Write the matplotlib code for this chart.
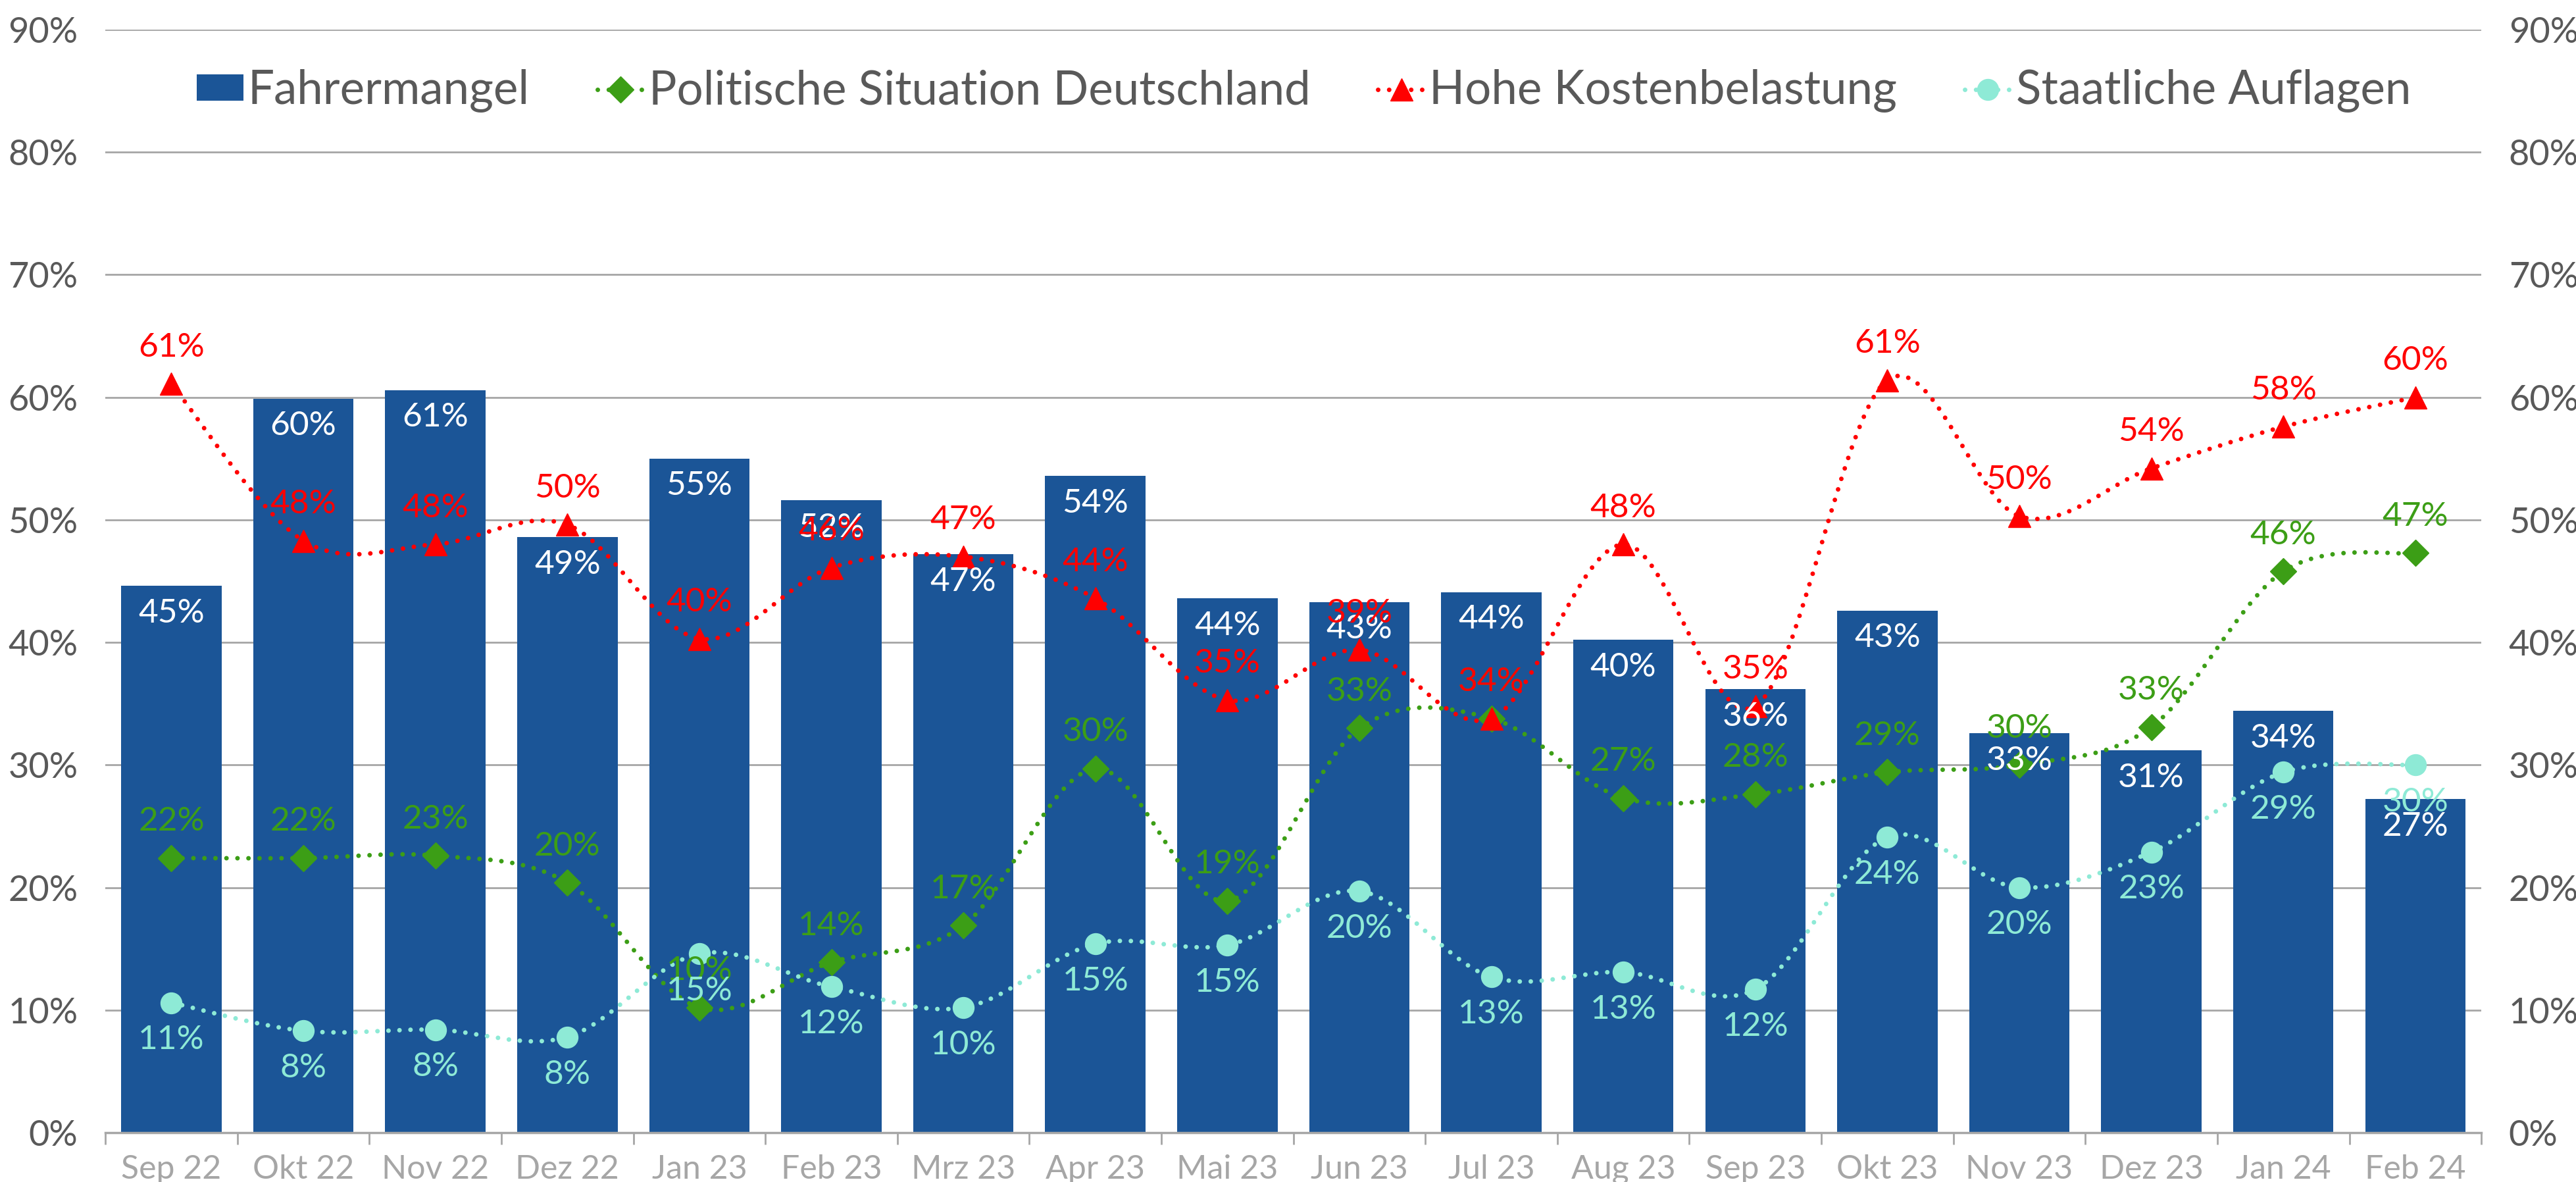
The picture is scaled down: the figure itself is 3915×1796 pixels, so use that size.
import numpy as np
import matplotlib.pyplot as plt
from matplotlib.path import Path
from matplotlib.patches import PathPatch, Patch
from matplotlib.lines import Line2D

plt.rcParams['font.family'] = ['Lato', 'DejaVu Sans']

# data (percent)
months = ["Sep 22", "Okt 22", "Nov 22", "Dez 22", "Jan 23", "Feb 23", "Mrz 23", "Apr 23", "Mai 23",
          "Jun 23", "Jul 23", "Aug 23", "Sep 23", "Okt 23", "Nov 23", "Dez 23", "Jan 24", "Feb 24"]
fahrermangel = [44.6, 59.9, 60.6, 48.6, 55.0, 51.6, 47.2, 53.6, 43.6, 43.3, 44.1, 40.2, 36.2, 42.6, 32.6, 31.2, 34.4, 27.2]
politik = [22.4, 22.4, 22.6, 20.4, 10.2, 13.9, 16.9, 29.7, 18.9, 33.0, 33.8, 27.3, 27.6, 29.4, 30.0, 33.1, 45.8, 47.3]
kosten = [61.1, 48.3, 48.0, 49.6, 40.3, 46.1, 47.0, 43.6, 35.3, 39.4, 33.8, 48.0, 34.8, 61.4, 50.3, 54.2, 57.6, 60.0]
auflagen = [10.6, 8.3, 8.4, 7.8, 14.6, 11.9, 10.2, 15.4, 15.3, 19.7, 12.7, 13.1, 11.7, 24.1, 20.0, 22.9, 29.4, 30.0]

names = ["Fahrermangel", "Politische Situation Deutschland", "Hohe Kostenbelastung", "Staatliche Auflagen"]

BLUE = "#1B5597"
GREEN = "#3C9E16"
RED = "#FF0000"
TEAL = "#8EEAD6"
GRID = "#A6A6A6"
DARK = "#595959"

DOT = (0, (0.01, 2.4))
LW = 5.0


def smooth_path(y):
    # Excel-like smooth line: cubic bezier segments through the points
    pts = np.column_stack([np.arange(len(y)), y]).astype(float)
    ext = np.vstack([pts[0], pts, pts[-1]])
    verts = [pts[0]]
    codes = [Path.MOVETO]
    for i in range(len(pts) - 1):
        p0, p1, p2, p3 = ext[i], ext[i + 1], ext[i + 2], ext[i + 3]
        verts += [p1 + (p2 - p0) / 6, p2 - (p3 - p1) / 6, p2]
        codes += [Path.CURVE4] * 3
    return Path(verts, codes)


fig = plt.figure(figsize=(39.16, 17.96), dpi=100)
ax = fig.add_axes([0.0409, 0.0418, 0.9221, 0.9331])
x = np.arange(len(months))

ax.set_ylim(0, 90)
ax.set_xlim(-0.5, len(months) - 0.5)
ax.set_yticks(range(0, 91, 10))
ax.set_yticklabels([f"{v}%" for v in range(0, 91, 10)])
ax.yaxis.grid(True, color=GRID, lw=2)
ax.set_axisbelow(True)
for s in ["left", "right", "top"]:
    ax.spines[s].set_visible(False)
ax.spines["bottom"].set_color(GRID)
ax.spines["bottom"].set_linewidth(2.5)
ax.tick_params(axis="y", length=0, pad=30, labelsize=39, labelcolor=DARK,
               right=False, labelright=True)

ax.set_xticks(x)
ax.set_xticklabels(months)
ax.set_xticks(np.arange(-0.5, len(months), 1), minor=True)
ax.tick_params(axis="x", which="major", length=0, pad=24, labelsize=36, labelcolor="#A6A6A6")
ax.tick_params(axis="x", which="minor", length=13, width=2, color=GRID)

# bars
ax.bar(x, fahrermangel, width=0.76, color=BLUE, zorder=2)
for i, v in enumerate(fahrermangel):
    ax.annotate(f"{v:.0f}%", (i, v), xytext=(0, -30), textcoords="offset points",
                ha="center", va="center", color="white", fontsize=37, zorder=6)

# lines
series = [(politik, GREEN, "D", 20, 40), (kosten, RED, "^", 24, 40), (auflagen, TEAL, "o", 23, -41)]
for vals, col, mk, ms, off in series:
    ax.add_patch(PathPatch(smooth_path(vals), fill=False, edgecolor=col, lw=LW,
                           linestyle=DOT, capstyle="round", zorder=3))
    ax.plot(x, vals, ls="none", marker=mk, ms=ms, color=col, zorder=4)
    for i, v in enumerate(vals):
        ax.annotate(f"{v:.0f}%", (i, v), xytext=(0, off), textcoords="offset points",
                    ha="center", va="center", color=col, fontsize=37, zorder=6)

handles = [Patch(facecolor=BLUE)]
for vals, col, mk, ms, off in series:
    handles.append(Line2D([], [], color=col, lw=LW, ls=DOT, dash_capstyle="round",
                          marker=mk, ms=ms))
fig.legend(handles, names, loc="center", bbox_to_anchor=(0.506, 0.923), ncol=4,
           frameon=False, fontsize=51, labelcolor=DARK, handlelength=1.0,
           handletextpad=0.1, columnspacing=1.45, handleheight=0.5)

fig.savefig("out.png", dpi=100)
